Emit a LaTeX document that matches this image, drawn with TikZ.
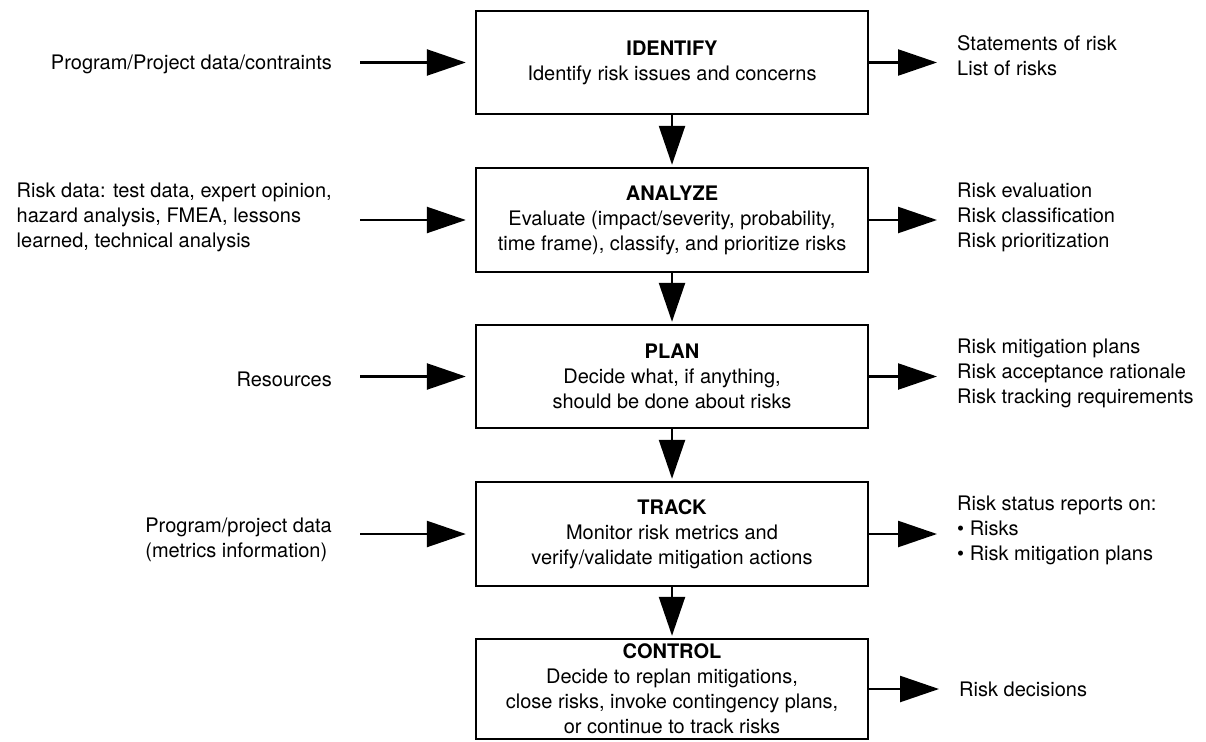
\documentclass[tikz,border=0pt]{standalone}
\usepackage{fontspec}
\setmainfont{TeX Gyre Heros}
\usetikzlibrary{arrows.meta}
\begin{document}
\begin{tikzpicture}[x=1pt,y=-1pt,
  txt/.style={font=\fontsize{20}{25}\selectfont, inner sep=0pt},
  stepbox/.style={txt, draw, line width=2.4pt, minimum width=392pt, align=center},
  intext/.style={txt, anchor=east, align=left},
  outtext/.style={txt, anchor=west, align=left},
  flow/.style={line width=2.4pt, -{Triangle[length=39pt,width=26pt]}},
]
\useasboundingbox (0,0) rectangle (1206,741);

% process steps
\node[stepbox, minimum height=103pt] (id) at (672,62.5)
  {\textbf{IDENTIFY}\\Identify risk issues and concerns};
\node[stepbox, minimum height=104pt] (an) at (672,220)
  {\textbf{ANALYZE}\\Evaluate (impact/severity, probability,\\time frame), classify, and prioritize risks};
\node[stepbox, minimum height=103pt] (pl) at (672,376.5)
  {\textbf{PLAN}\\Decide what, if anything,\\should be done about risks};
\node[stepbox, minimum height=104pt] (tr) at (672,534)
  {\textbf{TRACK}\\Monitor risk metrics and\\verify/validate mitigation actions};
\node[stepbox, minimum height=100pt] (co) at (672,689)
  {\textbf{CONTROL}\\Decide to replan mitigations,\\close risks, invoke contingency plans,\\or continue to track risks};

% inputs
\node[intext] (in1) at (332,64) {Program/Project data/contraints};
\node[intext] (in2) at (332,217) {Risk data: test data, expert opinion,\\hazard analysis, FMEA, lessons\\learned, technical analysis};
\node[intext] (in3) at (332,379) {Resources};
\node[intext] (in4) at (332,540) {Program/project data\\(metrics information)};

% outputs
\node[outtext] (out1) at (957,56) {Statements of risk\\List of risks};
\node[outtext] (out2) at (957,217) {Risk evaluation\\Risk classification\\Risk prioritization};
\node[outtext] (out3) at (957,373) {Risk mitigation plans\\Risk acceptance rationale\\Risk tracking requirements};
\node[outtext] (out4) at (957,530) {Risk status reports on:\\\textbullet\ Risks\\\textbullet\ Risk mitigation plans};
\node[outtext] (out5) at (959,689) {Risk decisions};

% input arrow tails
\coordinate (s1) at (360,62.5);
\coordinate (s2) at (360,220);
\coordinate (s3) at (360,376.5);
\coordinate (s4) at (360,534);

% flow between steps
\draw[flow, shorten >=2pt] (id.south) -- (an.north);
\draw[flow, shorten >=2pt] (an.south) -- (pl.north);
\draw[flow, shorten >=2pt] (pl.south) -- (tr.north);
\draw[flow, shorten >=2pt] (tr.south) -- (co.north);

% inputs into steps
\draw[flow] (s1) -- ([xshift=-9pt]id.west);
\draw[flow] (s2) -- ([xshift=-9pt]an.west);
\draw[flow] (s3) -- ([xshift=-9pt]pl.west);
\draw[flow] (s4) -- ([xshift=-9pt]tr.west);

% outputs from steps
\draw[flow, shorten >=20pt] (id.east) -- (id.east -| out1.west);
\draw[flow, shorten >=20pt] (an.east) -- (an.east -| out2.west);
\draw[flow, shorten >=20pt] (pl.east) -- (pl.east -| out3.west);
\draw[flow, shorten >=20pt] (tr.east) -- (tr.east -| out4.west);
\draw[flow, shorten >=20pt] (co.east) -- (co.east -| out5.west);
\end{tikzpicture}
\end{document}
